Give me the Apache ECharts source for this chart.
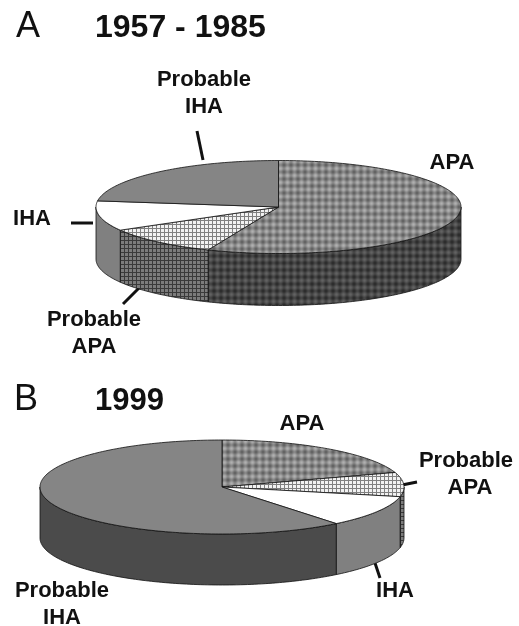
<!DOCTYPE html>
<html>
<head>
<meta charset="utf-8">
<style>html,body{margin:0;background:#fff}#main{width:519px;height:626px;filter:blur(0.45px)}</style>
<script src="https://cdn.jsdelivr.net/npm/echarts@6/dist/echarts.min.js"></script>
</head>
<body>
<div id="main"></div>
<script>
// slice data (percent, clockwise from 12 o'clock)
const namesA = ['APA', 'Probable APA', 'IHA', 'Probable IHA']
const valuesA = [56.3, 10.4, 10.4, 22.9]
const namesB = ['APA', 'Probable APA', 'IHA', 'Probable IHA']
const valuesB = [20, 8.3, 10.9, 60.8]
const panelLetters = ['A', 'B']
const panelYears = ['1957 - 1985', '1999']

// 平铺图案
function pattern (size, bg, line, lineW) {
  const c = document.createElement('canvas')
  c.width = c.height = size
  const g = c.getContext('2d')
  g.fillStyle = bg
  g.fillRect(0, 0, size, size)
  g.fillStyle = line
  g.fillRect(0, 0, lineW, size)
  g.fillRect(0, 0, size, lineW)
  return { image: c, repeat: 'repeat' }
}
// soft plaid, base grey +/- amp
function plaid (size, base, amp) {
  const c = document.createElement('canvas')
  c.width = c.height = size
  const g = c.getContext('2d')
  for (let x = 0; x < size; x++) {
    for (let y = 0; y < size; y++) {
      const wave = Math.cos(x / size * 2 * Math.PI) + Math.cos(y / size * 2 * Math.PI)
      const v = Math.round(base + amp * wave)
      g.fillStyle = 'rgb(' + v + ',' + v + ',' + v + ')'
      g.fillRect(x, y, 1, 1)
    }
  }
  return { image: c, repeat: 'repeat' }
}

const topFill = [plaid(7, 136, 20), pattern(4, '#f2f2f2', '#808080', 1), '#ffffff', '#858585']
const sideFill = [plaid(7, 70, 14), pattern(4, '#7c7c7c', '#3a3a3a', 1), '#808080', '#4b4b4b']

function slicePoints (pie, t0, t1, h) {
  const pts = []
  const n = Math.max(2, Math.ceil((t1 - t0) / 0.02))
  for (let i = 0; i <= n; i++) {
    const t = t0 + (t1 - t0) * i / n
    pts.push([pie.cx + pie.rx * Math.sin(t), pie.cy - pie.ry * Math.cos(t) + h])
  }
  return pts
}

function pieSeries (values, pie) {
  const total = values.reduce((a, b) => a + b, 0)
  let acc = 0
  const ranges = values.map(v => {
    const r = [acc / total * 2 * Math.PI, (acc + v) / total * 2 * Math.PI]
    acc += v
    return r
  })
  return {
    type: 'custom',
    coordinateSystem: 'none',
    silent: true,
    data: values,
    renderItem: (params) => {
      const i = params.dataIndex
      const [t0, t1] = ranges[i]
      const stroke = { stroke: '#111', lineWidth: 0.8 }
      const children = []
      // 侧面: only the front half shows
      const s0 = Math.max(t0, Math.PI / 2)
      const s1 = Math.min(t1, Math.PI * 3 / 2)
      if (s1 > s0) {
        const upper = slicePoints(pie, s0, s1, 0)
        const lower = slicePoints(pie, s0, s1, pie.depth).reverse()
        children.push({
          type: 'polygon',
          z2: 1,
          shape: { points: upper.concat(lower) },
          style: { fill: sideFill[i], ...stroke }
        })
      }
      const top = slicePoints(pie, t0, t1, 0)
      top.push([pie.cx, pie.cy])
      children.push({
        type: 'polygon',
        z2: 2,
        shape: { points: top },
        style: { fill: topFill[i], ...stroke }
      })
      return { type: 'group', children }
    }
  }
}

const bold = '"Liberation Sans", Arial, sans-serif'
function label (text, x, y) {
  return {
    type: 'text', x, y,
    style: { text, fill: '#111', font: 'bold 22px ' + bold, align: 'center', verticalAlign: 'middle' }
  }
}
function leader (x1, y1, x2, y2) {
  return { type: 'line', shape: { x1, y1, x2, y2 }, style: { stroke: '#111', lineWidth: 3 } }
}
function heading (text, x, y, weight, size) {
  return {
    type: 'text', x, y,
    style: { text, fill: '#111', font: weight + ' ' + size + 'px ' + bold, align: 'left', verticalAlign: 'middle' }
  }
}

const myChart = echarts.init(document.getElementById('main'), null, { renderer: 'canvas' })
myChart.setOption({
  animation: false,
  backgroundColor: '#fff',
  series: [
    pieSeries(valuesA, { cx: 278.5, cy: 207, rx: 182.5, ry: 46.5, depth: 52 }),
    pieSeries(valuesB, { cx: 222, cy: 487, rx: 182, ry: 47, depth: 51 })
  ],
  graphic: [
    heading(panelLetters[0], 16, 27, 'normal', 36),
    heading(panelYears[0], 95, 28, 'bold', 32),
    heading(panelLetters[1], 14, 400, 'normal', 36),
    heading(panelYears[1], 95, 401, 'bold', 31),
    label('Probable', 204, 80),
    label('IHA', 204, 107),
    label(namesA[0], 452, 163),
    label(namesA[2], 32, 219),
    label('Probable', 94, 320),
    label('APA', 94, 347),
    leader(197, 131, 203, 160),
    leader(71, 223, 93, 223),
    leader(139, 288, 123, 304),
    label(namesB[0], 302, 424),
    label('Probable', 466, 461),
    label('APA', 470, 488),
    label('Probable', 62, 591),
    label('IHA', 62, 618),
    label(namesB[2], 395, 591),
    leader(402, 485, 417, 482),
    leader(375, 563, 380, 578)
  ]
})
</script>
</body>
</html>
